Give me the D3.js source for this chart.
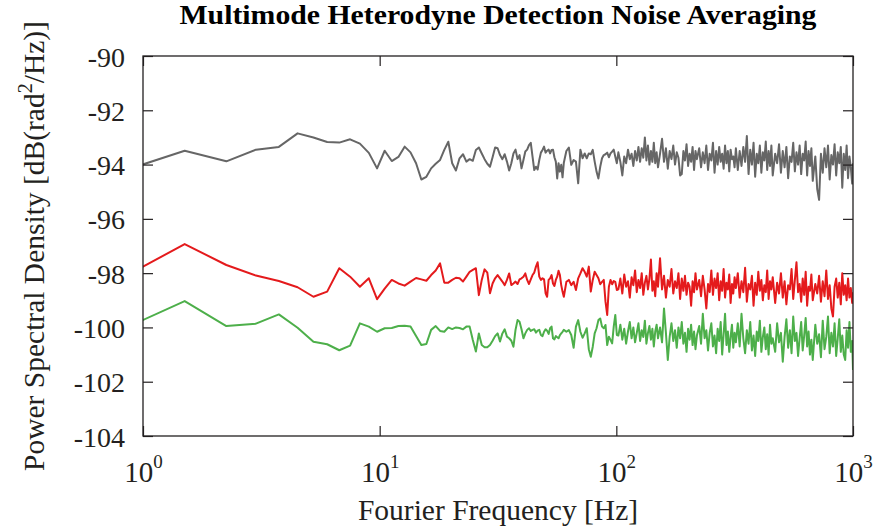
<!DOCTYPE html>
<html>
<head>
<meta charset="utf-8">
<script src="https://cdn.jsdelivr.net/npm/d3@7"></script>
<style>
  html, body { margin: 0; padding: 0; background: #fff; }
  svg text { font-family: "Liberation Serif", "DejaVu Serif", serif; fill: #231f20; }
</style>
</head>
<body>
<svg id="chart" width="877" height="531"></svg>
<script>
// ---------------- DATA ----------------
const titleText = "Multimode Heterodyne Detection Noise Averaging";
const xTicks = [1, 10, 100, 1000];
const xTickExps = ["0", "1", "2", "3"];
const yTicks = [-104, -102, -100, -98, -96, -94, -92, -90];

// Fourier frequencies (Hz)
const freqHz = [
  0.75,1.5,2.25,3,3.75,4.5,5.25,6,6.75,7.5,
  8.25,9,9.75,10.5,11.25,12,12.75,13.5,14.25,15,
  15.75,16.5,17.25,18,18.75,19.5,20.25,21,21.75,22.5,
  23.25,24,24.75,25.5,26.25,27,27.75,28.5,29.25,30,
  30.75,31.5,32.25,33,33.75,34.5,35.25,36,36.75,37.5,
  38.25,39,39.75,40.5,41.25,42,42.75,43.5,44.25,45,
  45.75,46.5,47.25,48,48.75,49.5,50.25,51,51.75,52.5,
  53.25,54,54.75,55.5,56.25,57,57.75,58.5,59.25,60,
  61.5,63,64.5,66,67.5,69,70.5,72,73.5,75,
  76.5,78,79.5,81,82.5,84,85.5,87,88.5,90,
  91.5,93,94.5,96,97.5,99,100.5,
  102,104,106,108,110,112,114,116,118,120,122,124,126,128,130,132,134,136,138,140,142,144,146,148,150,
  153,156,159,162,165,168,171,174,177,180,183,186,189,192,195,198,201,204,207,210,213,216,219,
  224,228,232,236,240,244,248,252,256,260,264,268,272,276,280,284,288,292,296,300,304,308,312,316,320,
  326,332,338,344,350,356,362,368,374,380,386,392,398,404,410,416,422,428,434,440,446,452,458,
  469,478,487,496,505,514,523,532,541,550,559,568,577,586,595,604,613,622,631,640,649,658,667,676,
  693,706,719,732,745,758,771,784,797,810,823,836,849,862,875,888,901,914,927,940,953,966,979,992,1000
];

// PSD, gray trace (dB rad^2/Hz)
const psdGray = [
  -94.35,-93.49,-93.88,-93.45,-93.35,-92.85,-93.00,-93.17,-93.19,-93.07,
  -93.23,-93.57,-94.14,-93.49,-93.87,-93.72,-93.34,-93.55,-93.95,-94.55,
  -94.45,-94.14,-93.97,-93.83,-93.46,-93.16,-93.95,-94.22,-93.77,-93.62,
  -93.89,-93.80,-93.86,-93.46,-93.37,-93.59,-93.80,-93.97,-94.08,-93.73,
  -93.37,-93.40,-93.65,-93.80,-93.62,-93.89,-94.22,-93.95,-93.59,-93.45,
  -93.80,-93.65,-94.14,-93.83,-93.52,-93.45,-93.28,-93.20,-93.71,-94.20,
  -94.08,-94.18,-93.83,-93.56,-93.46,-93.34,-93.56,-93.49,-93.45,-93.59,
  -93.46,-93.45,-93.73,-93.89,-94.51,-93.95,-94.26,-94.01,-94.47,-93.93,
  -93.50,-93.37,-94.01,-93.83,-93.89,-94.69,-93.45,-93.77,-93.59,-93.77,
  -93.59,-93.62,-93.46,-93.89,-94.26,-94.51,-94.08,-93.77,-93.65,-93.62,
  -93.56,-93.73,-93.59,-93.52,-93.45,-93.71,-93.95,
  -93.55,-93.9,-94.4,-93.7,-93.95,-93.45,-93.8,-93.6,-94.05,-93.5,-93.85,-93.35,-93.9,-93.4,-93.75,-93.0,-93.85,-93.3,-94.0,-93.5,-93.9,-93.2,-93.95,-93.55,-94.1,
  -93.6,-93.05,-93.9,-93.4,-94.15,-93.5,-93.8,-93.3,-94.0,-93.55,-93.75,-94.4,-94.35,-93.5,-93.85,-93.25,-94.05,-93.6,-93.9,-93.35,-94.2,-93.5,-93.8,
  -93.4,-94.1,-93.55,-93.95,-93.3,-94.2,-93.6,-93.85,-93.2,-94.3,-93.5,-94.0,-93.35,-93.9,-93.6,-94.15,-93.3,-93.95,-93.5,-94.25,-93.45,-93.8,-93.7,-94.1,-93.4,
  -94.2,-93.5,-94.05,-93.35,-93.9,-92.95,-94.35,-93.45,-94.0,-93.2,-94.45,-93.6,-93.95,-93.3,-94.3,-93.55,-93.85,-93.15,-94.2,-93.5,-94.05,-93.3,-94.4,
  -93.6,-93.95,-93.25,-94.3,-93.5,-94.1,-93.35,-94.5,-93.7,-93.9,-93.2,-94.25,-93.55,-94.0,-93.3,-94.35,-93.6,-93.85,-93.15,-94.4,-93.5,-94.05,-93.4,-94.6,
  -93.7,-94.9,-95.3,-93.6,-94.3,-93.4,-94.1,-93.3,-94.55,-93.65,-94.0,-93.25,-94.4,-93.55,-93.95,-93.35,-94.85,-93.6,-94.2,-93.3,-94.5,-93.7,-94.1,-94.7,-93.95
];

// PSD, red trace
const psdRed = [
  -98.35,-96.93,-97.70,-98.09,-98.29,-98.52,-98.87,-98.68,-97.82,-98.13,
  -98.50,-98.19,-98.96,-98.57,-98.25,-98.38,-98.46,-98.31,-98.18,-98.23,
  -98.28,-98.07,-97.90,-97.64,-98.35,-98.35,-98.25,-98.17,-98.19,-98.31,
  -98.13,-97.95,-97.88,-97.82,-98.81,-98.25,-97.86,-97.98,-98.74,-98.38,
  -98.19,-98.07,-98.19,-98.31,-98.44,-98.25,-98.01,-98.44,-98.38,-98.31,
  -98.40,-98.23,-98.19,-98.13,-98.01,-98.25,-98.40,-98.23,-98.07,-97.98,
  -97.76,-97.60,-98.13,-98.25,-98.19,-98.23,-98.74,-98.87,-98.25,-98.19,
  -98.07,-98.38,-98.47,-98.25,-98.13,-97.91,-98.07,-98.44,-98.68,-98.87,
  -98.32,-98.25,-98.44,-98.32,-98.62,-98.19,-98.01,-97.82,-97.95,-98.13,
  -97.76,-98.68,-98.25,-97.95,-98.07,-98.19,-98.41,-98.32,-98.25,-99.05,
  -99.54,-98.50,-98.25,-98.41,-98.29,-98.32,-98.62,
  -98.6,-98.2,-98.75,-98.05,-98.5,-98.3,-98.9,-98.15,-98.45,-97.9,-98.7,-98.25,-98.55,-98.0,-98.8,-98.35,-98.1,-98.6,-98.2,-97.5,-98.65,-98.3,-98.85,-98.0,-98.5,
  -97.45,-98.6,-98.1,-98.9,-98.25,-98.5,-97.85,-98.75,-98.3,-98.55,-98.0,-98.95,-98.2,-98.65,-98.1,-98.8,-98.35,-98.5,-99.2,-98.3,-98.7,-98.0,-98.6,
  -98.25,-98.85,-98.1,-98.6,-99.3,-98.4,-98.7,-97.9,-98.8,-98.2,-98.55,-98.0,-99.0,-98.3,-98.65,-97.85,-98.9,-98.35,-98.6,-98.05,-99.1,-98.4,-98.75,-98.15,-98.55,
  -98.0,-98.9,-98.3,-98.7,-97.8,-99.05,-98.4,-98.6,-98.1,-99.2,-98.35,-98.8,-97.95,-98.65,-98.25,-99.0,-98.45,-98.7,-97.9,-98.95,-98.3,-98.6,-98.15,
  -99.1,-98.35,-98.75,-98.0,-98.9,-98.3,-99.15,-98.45,-98.6,-97.85,-98.95,-98.25,-97.6,-98.7,-98.4,-99.05,-98.2,-98.8,-97.95,-99.2,-98.5,-98.65,-98.05,-99.0,
  -98.4,-98.75,-98.1,-99.05,-98.3,-98.85,-97.9,-98.95,-98.45,-99.3,-99.6,-98.5,-98.2,-98.9,-98.35,-99.15,-98.0,-98.8,-98.45,-99.0,-98.2,-98.9,-98.55,-99.1,-98.7
];

// PSD, green trace
const psdGreen = [
  -100.22,-99.03,-99.95,-99.86,-99.52,-100.01,-100.53,-100.62,-100.84,-100.67,
  -99.85,-99.97,-100.16,-100.03,-100.02,-99.95,-99.94,-99.97,-100.32,-100.65,
  -100.61,-100.09,-99.95,-100.13,-100.16,-100.00,-100.06,-100.00,-100.02,-100.07,
  -99.97,-99.97,-100.46,-100.89,-100.22,-100.65,-100.73,-100.73,-100.65,-100.49,
  -100.32,-100.22,-100.52,-100.22,-100.07,-100.34,-100.40,-100.49,-100.71,-100.09,
  -99.73,-99.79,-100.07,-100.40,-100.22,-100.09,-100.03,-100.13,-100.09,-100.07,
  -100.19,-100.12,-100.09,-100.28,-100.32,-100.16,-100.07,-100.12,-100.24,-100.03,
  -99.97,-100.40,-100.44,-100.32,-100.36,-100.40,-100.28,-100.22,-100.16,-100.09,
  -100.16,-100.10,-100.28,-100.75,-99.97,-99.73,-100.16,-100.38,-100.22,-100.03,
  -100.80,-101.08,-100.71,-100.22,-100.03,-99.73,-99.67,-99.97,-100.03,-99.91,
  -100.65,-100.34,-100.46,-100.59,-99.97,-99.54,-100.28,
  -100.3,-99.9,-100.45,-100.05,-100.6,-100.15,-99.8,-100.4,-100.0,-100.55,-100.2,-99.85,-100.5,-100.1,-100.35,-99.75,-100.6,-100.2,-99.95,-100.45,-100.05,-100.7,-100.15,-99.9,-100.4,
  -100.0,-100.55,-99.3,-100.2,-101.2,-100.35,-99.85,-100.5,-100.1,-100.75,-100.0,-100.4,-99.8,-100.6,-100.2,-100.9,-100.05,-100.45,-99.9,-100.65,-100.15,-100.8,-100.3,
  -99.95,-100.6,-99.5,-100.4,-100.1,-100.85,-100.2,-99.85,-100.7,-100.3,-100.95,-100.05,-100.5,-99.8,-101.0,-100.25,-99.5,-100.65,-100.15,-100.9,-100.35,-99.9,-100.75,-100.2,-100.55,
  -99.85,-100.7,-99.5,-100.4,-100.95,-100.1,-100.6,-99.8,-100.85,-100.3,-101.05,-100.15,-100.5,-99.75,-100.9,-100.35,-100.0,-100.8,-100.25,-101.0,-99.9,-100.6,-100.4,
  -100.9,-99.85,-100.55,-100.2,-101.26,-100.35,-99.7,-100.75,-100.1,-100.95,-99.6,-100.5,-100.2,-101.05,-100.4,-99.8,-100.85,-100.3,-99.65,-100.7,-100.15,-101.0,-100.45,-101.2,
  -99.9,-100.6,-100.25,-101.1,-99.75,-100.8,-100.35,-99.6,-100.95,-100.2,-100.7,-99.85,-101.05,-100.4,-99.7,-100.9,-100.3,-101.0,-101.2,-100.1,-100.75,-99.8,-100.9,-100.5,-101.57
];

const seriesNames = ["gray", "red", "green"];
const seriesColors = ["#666666", "#e41a1c", "#4daf4a"];

// ---------------- CHART ----------------
const W = 877, H = 531;
const margin = { top: 56, right: 24, bottom: 95, left: 143 };
const plotW = W - margin.left - margin.right;
const plotH = H - margin.top - margin.bottom;

const svg = d3.select("#chart");

const x = d3.scaleLog().domain([1, 1000]).range([margin.left, margin.left + plotW]);
const y = d3.scaleLinear().domain([-104, -90]).range([margin.top + plotH, margin.top]);

svg.append("defs").append("clipPath").attr("id", "plotclip")
  .append("rect")
  .attr("x", margin.left).attr("y", margin.top)
  .attr("width", plotW).attr("height", plotH);

// Title
svg.append("text")
  .attr("x", margin.left + plotW / 2)
  .attr("y", 24)
  .attr("text-anchor", "middle")
  .attr("textLength", 637)
  .attr("lengthAdjust", "spacingAndGlyphs")
  .style("font-size", "28px")
  .style("font-weight", "bold")
  .style("fill", "#000")
  .text(titleText);

// Lines
const series = [psdGray, psdRed, psdGreen];
const line = d3.line()
  .x((d, i) => x(freqHz[i]))
  .y(d => y(d));

const gLines = svg.append("g").attr("clip-path", "url(#plotclip)");
series.forEach((vals, si) => {
  gLines.append("path")
    .datum(vals)
    .attr("class", "trace-" + seriesNames[si])
    .attr("fill", "none")
    .attr("stroke", seriesColors[si])
    .attr("stroke-width", 2)
    .attr("stroke-linejoin", "round")
    .attr("d", line);
});

// Axes (ticks inward)
const tickLen = 10;
const axisColor = "#231f20";

const yAxisL = svg.append("g")
  .attr("transform", `translate(${margin.left},0)`)
  .call(d3.axisLeft(y).tickValues(yTicks).tickSizeInner(-tickLen).tickSizeOuter(0).tickPadding(18)
    .tickFormat(d => d));
const yAxisR = svg.append("g")
  .attr("transform", `translate(${margin.left + plotW},0)`)
  .call(d3.axisRight(y).tickValues(yTicks).tickSizeInner(-tickLen).tickSizeOuter(0).tickFormat(""));
const xAxisB = svg.append("g")
  .attr("transform", `translate(0,${margin.top + plotH})`)
  .call(d3.axisBottom(x).tickValues(xTicks).tickSizeInner(-tickLen).tickSizeOuter(0).tickFormat(""));
const xAxisT = svg.append("g")
  .attr("transform", `translate(0,${margin.top})`)
  .call(d3.axisTop(x).tickValues(xTicks).tickSizeInner(-tickLen).tickSizeOuter(0).tickFormat(""));

[yAxisL, yAxisR, xAxisB, xAxisT].forEach(g => {
  g.select(".domain").remove();
  g.selectAll(".tick line").attr("stroke", axisColor).attr("stroke-width", 1.2);
});
yAxisL.selectAll(".tick text")
  .style("font-size", "28px")
  .style("font-family", '"Liberation Serif", serif')
  .attr("fill", axisColor)
  .attr("dy", "0.36em");

// x tick labels with superscript exponents
xAxisB.selectAll(".tick").each(function (d, i) {
  const t = d3.select(this).append("text")
    .attr("y", 46)
    .attr("text-anchor", "middle")
    .attr("fill", axisColor)
    .style("font-size", "29px")
    .style("font-family", '"Liberation Serif", serif');
  t.append("tspan").text("10");
  t.append("tspan").attr("dy", -14).style("font-size", "19px").text(xTickExps[i]);
});

// Frame
svg.append("rect")
  .attr("x", margin.left).attr("y", margin.top)
  .attr("width", plotW).attr("height", plotH)
  .attr("fill", "none").attr("stroke", axisColor).attr("stroke-width", 1.3);

// Axis titles
svg.append("text")
  .attr("x", margin.left + plotW / 2)
  .attr("y", 520)
  .attr("text-anchor", "middle")
  .style("font-size", "29.5px")
  .attr("fill", axisColor)
  .text("Fourier Frequency [Hz]");

const yl = svg.append("text")
  .attr("transform", `translate(44,246) rotate(-90)`)
  .attr("text-anchor", "middle")
  .style("font-size", "29.5px")
  .attr("fill", axisColor);
yl.append("tspan").text("Power Spectral Density [dB(rad");
yl.append("tspan").attr("dy", -12).style("font-size", "20px").text("2");
yl.append("tspan").attr("dy", 12).text("/Hz)]");
</script>
</body>
</html>
